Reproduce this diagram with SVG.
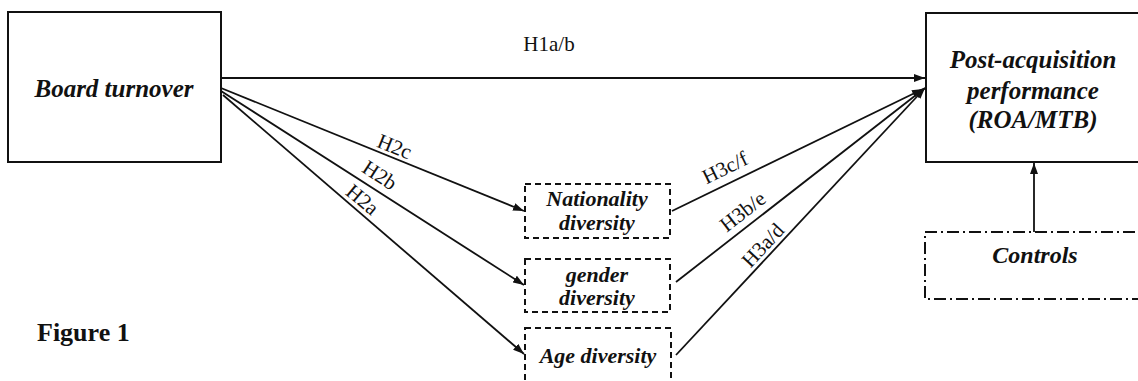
<svg xmlns="http://www.w3.org/2000/svg" width="1138" height="381" viewBox="0 0 1138 381">
<style>
.box{fill:none;stroke:#111;stroke-width:2}
.dash{fill:none;stroke:#111;stroke-width:2;stroke-dasharray:6 4}
.dashdot{fill:none;stroke:#111;stroke-width:2;stroke-dasharray:12 4 2 4}
.node{font-family:"Liberation Serif","Times New Roman",serif;font-weight:bold;font-style:italic;fill:#111;text-anchor:middle}
.lbl{font-family:"Liberation Serif","Times New Roman",serif;font-size:21px;fill:#111;text-anchor:middle}
.edge{stroke:#111;stroke-width:1.8;fill:none;marker-end:url(#ah)}
</style>
<defs>
<marker id="ah" viewBox="0 0 11 8" refX="11" refY="4" markerWidth="11" markerHeight="8" markerUnits="userSpaceOnUse" orient="auto">
<path d="M0,0 L11,4 L0,8 z" fill="#111"/>
</marker>
</defs>
<rect width="1138" height="381" fill="#fff"/>
<g id="board">
<rect class="box" x="8" y="12" width="213" height="150"/>
<text class="node" x="114" y="97" font-size="25">Board turnover</text>
</g>
<g id="performance">
<rect class="box" x="926" y="13" width="230" height="149"/>
<text class="node" x="1033" y="68" font-size="25">Post-acquisition</text>
<text class="node" x="1033" y="99" font-size="25">performance</text>
<text class="node" x="1033" y="128" font-size="25">(ROA/MTB)</text>
</g>
<g id="nationality">
<rect class="dash" x="525" y="184" width="145" height="54"/>
<text class="node" x="597" y="206" font-size="22">Nationality</text>
<text class="node" x="597" y="230" font-size="22">diversity</text>
</g>
<g id="gender">
<rect class="dash" x="525" y="259" width="145" height="53"/>
<text class="node" x="597" y="282" font-size="22">gender</text>
<text class="node" x="597" y="305" font-size="22">diversity</text>
</g>
<g id="age">
<rect class="dash" x="525" y="328" width="146" height="60"/>
<text class="node" x="598" y="363" font-size="22">Age diversity</text>
</g>
<g id="controls">
<rect class="dashdot" x="925" y="232" width="230" height="67"/>
<text class="node" x="1035" y="263" font-size="24">Controls</text>
</g>
<g id="connectors">
<line class="edge" x1="221" y1="78" x2="925" y2="78"/>
<line class="edge" x1="221" y1="88" x2="524" y2="211"/>
<line class="edge" x1="221" y1="91" x2="524" y2="285"/>
<line class="edge" x1="223" y1="95" x2="524" y2="354"/>
<line class="edge" x1="672" y1="211" x2="923" y2="89"/>
<line class="edge" x1="676" y1="282" x2="925" y2="88"/>
<line class="edge" x1="676" y1="355" x2="925" y2="88"/>
<line class="edge" x1="1034" y1="232" x2="1034" y2="163"/>
<text class="lbl" x="549" y="51">H1a/b</text>
<text class="lbl" transform="translate(392,153) rotate(22)">H2c</text>
<text class="lbl" transform="translate(376,181) rotate(33)">H2b</text>
<text class="lbl" transform="translate(358,205) rotate(40)">H2a</text>
<text class="lbl" transform="translate(728,174) rotate(-26)">H3c/f</text>
<text class="lbl" transform="translate(747,217) rotate(-38)">H3b/e</text>
<text class="lbl" transform="translate(768,250) rotate(-47)">H3a/d</text>
</g>
<text x="37" y="341" font-family="'Liberation Serif','Times New Roman',serif" font-weight="bold" font-size="26" fill="#111">Figure 1</text>
</svg>
